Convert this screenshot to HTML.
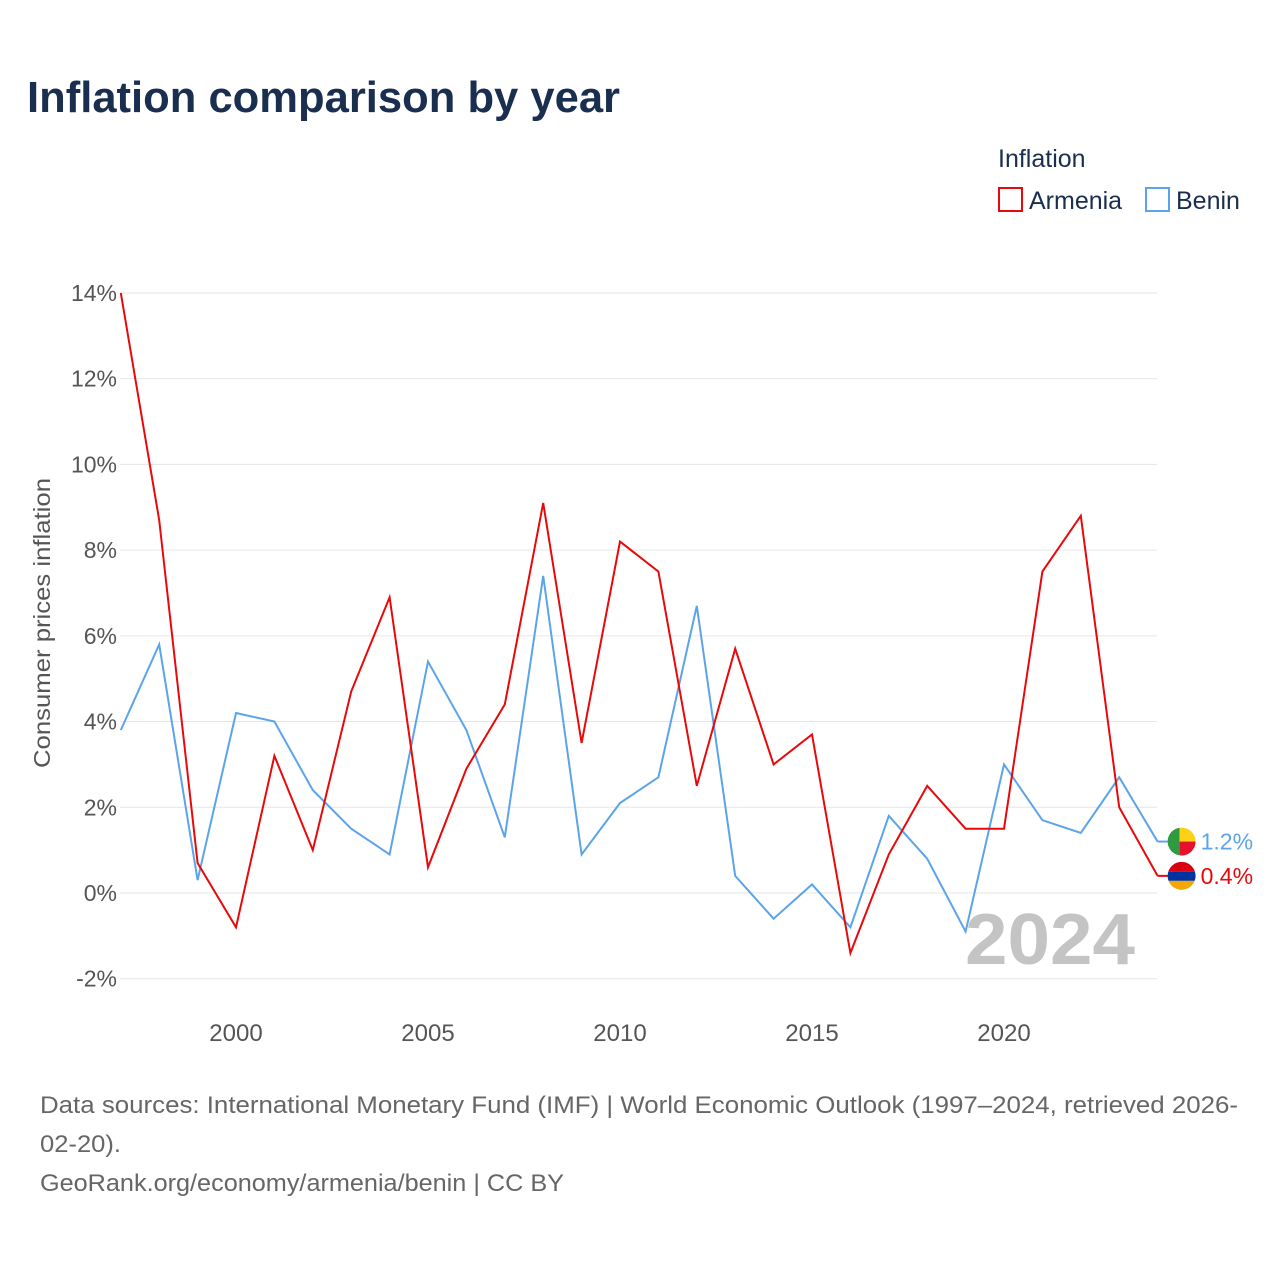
<!DOCTYPE html>
<html><head><meta charset="utf-8"><style>
body{margin:0;background:#fff;font-family:"Liberation Sans",sans-serif;}
</style></head><body>
<svg width="1280" height="1280" xmlns="http://www.w3.org/2000/svg" font-family="Liberation Sans, sans-serif">
<text x="27" y="112" font-size="44" font-weight="bold" fill="#1a2e50" textLength="593" lengthAdjust="spacingAndGlyphs">Inflation comparison by year</text>
<text x="998" y="167" font-size="25" fill="#1a2e50">Inflation</text>
<g><rect x="999" y="188" width="23" height="23" fill="none" stroke="#e8090b" stroke-width="2"/><text x="1029" y="209" font-size="25" fill="#1a2e50">Armenia</text></g>
<g><rect x="1146" y="188" width="23" height="23" fill="none" stroke="#5ba4ea" stroke-width="2"/><text x="1176" y="209" font-size="25" fill="#1a2e50">Benin</text></g>
<g id="grid"></g>
<g id="yt"></g>
<g id="xt"></g>
<text transform="translate(50,623) rotate(-90)" text-anchor="middle" font-size="23" fill="#555" textLength="290" lengthAdjust="spacingAndGlyphs">Consumer prices inflation</text>
<text x="1135" y="964" text-anchor="end" font-size="72" font-weight="bold" fill="#c4c4c4" textLength="170" lengthAdjust="spacingAndGlyphs">2024</text>
<g id="lines"></g>
<text x="40" y="1113" font-size="24" fill="#666" textLength="1198" lengthAdjust="spacingAndGlyphs">Data sources: International Monetary Fund (IMF) | World Economic Outlook (1997–2024, retrieved 2026-</text>
<text x="40" y="1152" font-size="24" fill="#666" textLength="81" lengthAdjust="spacingAndGlyphs">02-20).</text>
<text x="40" y="1191" font-size="24" fill="#666" textLength="524" lengthAdjust="spacingAndGlyphs">GeoRank.org/economy/armenia/benin | CC BY</text>
</svg>
<script>
const years=[1997,1998,1999,2000,2001,2002,2003,2004,2005,2006,2007,2008,2009,2010,2011,2012,2013,2014,2015,2016,2017,2018,2019,2020,2021,2022,2023,2024];
const armenia=[14.0,8.7,0.7,-0.8,3.2,1.0,4.7,6.9,0.6,2.9,4.4,9.1,3.5,8.2,7.5,2.5,5.7,3.0,3.7,-1.4,0.9,2.5,1.5,1.5,7.5,8.8,2.0,0.4];
const benin=[3.8,5.8,0.3,4.2,4.0,2.4,1.5,0.9,5.4,3.8,1.3,7.4,0.9,2.1,2.7,6.7,0.4,-0.6,0.2,-0.8,1.8,0.8,-0.9,3.0,1.7,1.4,2.7,1.2];
const yTicks=[-2,0,2,4,6,8,10,12,14];
const xTicks=[2000,2005,2010,2015,2020];
const NS="http://www.w3.org/2000/svg";
const X=y=>120.8+(y-1997)*38.4;
const Y=v=>893-v*42.86;
function mk(t,a,p){const e=document.createElementNS(NS,t);for(const k in a)e.setAttribute(k,a[k]);p.appendChild(e);return e;}
const grid=document.getElementById('grid'),yt=document.getElementById('yt'),xt=document.getElementById('xt'),lines=document.getElementById('lines');
yTicks.forEach(v=>{
const l=mk('line',{x1:120,x2:1157,y1:Y(v),y2:Y(v),stroke:'#e6e6e6','stroke-width':1},grid);


const t=mk('text',{x:117,y:Y(v)+8,'text-anchor':'end','font-size':23,fill:'#555'},yt);
t.textContent=v+'%';


});
xTicks.forEach(v=>{
const t=mk('text',{x:X(v),y:1041,'text-anchor':'middle','font-size':24,fill:'#555'},xt);
t.textContent=v;


});
function series(vals,col,name){
const pts=vals.map((v,i)=>X(years[i])+','+Y(vals[i])).join(' ');
const p=mk('polyline',{points:pts,fill:'none',stroke:col,'stroke-width':2,'stroke-linejoin':'miter'},lines);


const last=vals[vals.length-1],lx=X(years[years.length-1]),ly=Y(last);
const c=mk('line',{x1:lx,x2:lx+14,y1:ly,y2:ly,stroke:col,'stroke-width':2},lines);


const t=mk('text',{x:lx+43,y:ly+8,'font-size':23,fill:col},lines);
t.textContent=last.toFixed(1)+'%';


return [lx+24,ly];
}
const [bx,by]=series(benin,'#5ba4ea','benin');
const [ax,ay]=series(armenia,'#e8090b','armenia');
const fb=mk('g',{},lines);


const cb=mk('clipPath',{id:'cb'},fb);mk('circle',{cx:bx,cy:by,r:14},cb);
const gb=mk('g',{'clip-path':'url(#cb)'},fb);
mk('rect',{x:bx-14,y:by-14,width:12,height:28,fill:'#2f9a3f'},gb);
mk('rect',{x:bx-2,y:by-14,width:16,height:14,fill:'#fcd116'},gb);
mk('rect',{x:bx-2,y:by,width:16,height:14,fill:'#e8112d'},gb);
const fa=mk('g',{},lines);


const ca=mk('clipPath',{id:'ca'},fa);mk('circle',{cx:ax,cy:ay,r:14},ca);
const ga=mk('g',{'clip-path':'url(#ca)'},fa);
mk('rect',{x:ax-14,y:ay-14,width:28,height:10,fill:'#d90012'},ga);
mk('rect',{x:ax-14,y:ay-4,width:28,height:9,fill:'#0033a0'},ga);
mk('rect',{x:ax-14,y:ay+5,width:28,height:10,fill:'#f2a800'},ga);
</script>
</body></html>
